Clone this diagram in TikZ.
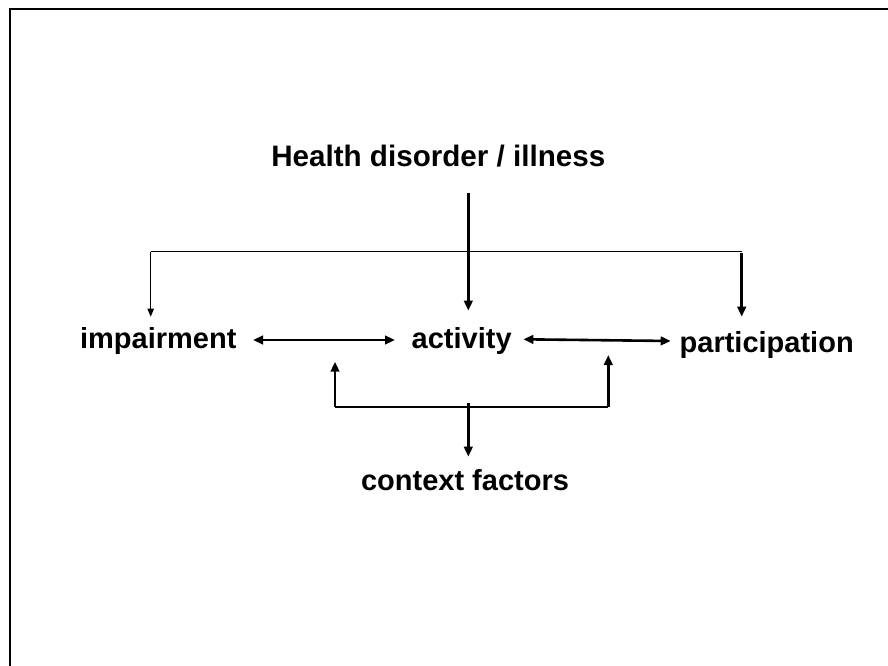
\documentclass[tikz,border=0pt]{standalone}
\usepackage{fontspec}
\setmainfont{Liberation Sans}
\usetikzlibrary{arrows.meta}
\begin{document}
\begin{tikzpicture}[x=1pt,y=-1pt,
  label/.style={anchor=base,inner sep=0pt,font=\bfseries\fontsize{29}{34}\selectfont},
  thickarrow/.style={line width=2.6pt,-{Triangle[length=10pt,width=8.5pt]}},
  thinarrow/.style={line width=0.9pt,-{Triangle[length=8pt,width=6.5pt]}},
  frameline/.style={line width=2.2pt},
  bracket/.style={line width=1.8pt}]
\useasboundingbox (0,0) rectangle (888,666);
% open frame: top and left edges only
\draw[frameline] (10,666) -- (10,9) -- (888,9);

% labels
\node[label,font=\bfseries\fontsize{29.6}{34}\selectfont] (health) at (438.3,166.7) {Health disorder / illness};
\node[label] (imp) at (158.3,348) {impairment};
\node[label] (act) at (461.7,348) {activity};
\node[label] (part) at (766.7,352) {participation};
\node[label] (ctx) at (465,490) {context factors};

% connector end points
\coordinate (hTop) at (468.3,193);
\coordinate (hTip) at (468.3,310.7);
\coordinate (brL) at (150.7,251.7);
\coordinate (brR) at (741.7,251.7);
\coordinate (impTip) at (150.7,316.7);
\coordinate (partTip) at (741.7,316.7);
\coordinate (iaL) at (253,340);
\coordinate (iaR) at (395,340);
\coordinate (apL) at (523.3,339.3);
\coordinate (apR) at (670.7,341);
\coordinate (cL) at (335,406.7);
\coordinate (cR) at (608.3,406.7);
\coordinate (cLTip) at (335,361.7);
\coordinate (cRTip) at (608.3,355);
\coordinate (cMid) at (468.3,403.3);
\coordinate (cTip) at (468.3,456.7);

% health disorder branches
\draw[line width=0.9pt] (brL) -- (brR);
\draw[thinarrow] (brL) -- (impTip);
\draw[thickarrow] (hTop) -- (hTip);
\draw[thickarrow] ([yshift=-1.7pt]brR) -- (partTip);

% interactions between the three levels
\draw[thickarrow,{Triangle[length=10pt,width=8.5pt]}-{Triangle[length=10pt,width=8.5pt]}] (iaL) -- (iaR);
\draw[thickarrow,{Triangle[length=10pt,width=8.5pt]}-{Triangle[length=10pt,width=8.5pt]}] (apL) -- (apR);

% context factors bracket
\draw[bracket] (cL) -- (cR);
\draw[thickarrow] (cL) -- (cLTip);
\draw[thickarrow] (cR) -- (cRTip);
\draw[thickarrow] (cMid) -- (cTip);
\end{tikzpicture}
\end{document}
